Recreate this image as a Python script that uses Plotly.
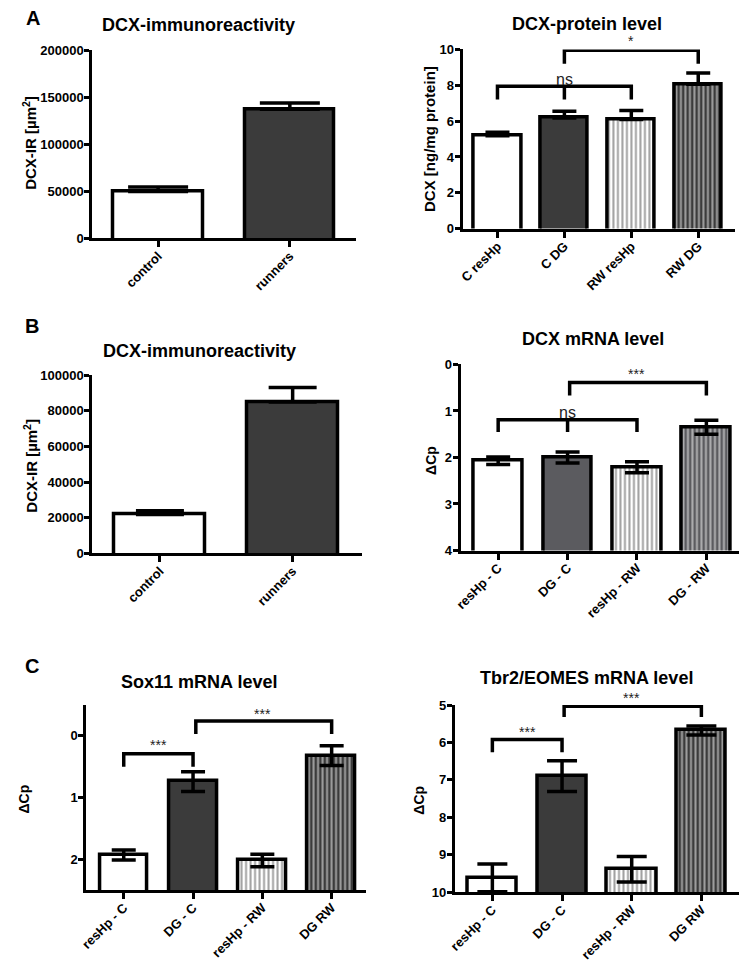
import plotly.graph_objects as go

PAGE_W, PAGE_H = 747, 977
M = 8  # default browser body margin
W, H = PAGE_W - 2 * M, PAGE_H - 2 * M
FONT = "Liberation Sans, Arial, sans-serif"

# ---------------- data ----------------
a1_cats = ["control", "runners"]
a1_vals = [50000, 137400]
a1_err = [4800, 6700]

a2_cats = ["C resHp", "C DG", "RW resHp", "RW DG"]
a2_vals = [5.19, 6.18, 6.09, 8.06]
a2_err = [0.19, 0.37, 0.50, 0.62]

b1_cats = ["control", "runners"]
b1_vals = [21800, 85000]
b1_err = [2200, 8100]

b2_cats = ["resHp - C", "DG - C", "resHp - RW", "DG - RW"]
b2_vals = [2.07, 2.00, 2.21, 1.35]
b2_err = [0.08, 0.12, 0.12, 0.15]

c1_cats = ["resHp - C", "DG - C", "resHp - RW", "DG RW"]
c1_vals = [1.93, 0.74, 2.02, 0.32]
c1_err = [0.08, 0.16, 0.10, 0.16]

c2_cats = ["resHp - C", "DG - C", "resHp - RW", "DG RW"]
c2_vals = [9.62, 6.90, 9.39, 5.68]
c2_err = [0.37, 0.41, 0.34, 0.12]

DARK = "#3b3b3b"
MID = "#5b5b5f"

panels = [
    dict(cats=a1_cats, vals=a1_vals, err=a1_err, title="DCX-immunoreactivity",
         ytitle="DCX-IR [µm<sup>2</sup>]", dom=(86, 352, 44, 235), yr=[0, 200000],
         tv=[0, 50000, 100000, 150000, 200000], xr=[-0.5, 1.5], bw=0.68, cap=30,
         fills=["white", DARK], pats=["", ""], up_only=True,
         tpos=(193, 18), ypos=(23, 138), ysize=15),
    dict(cats=a2_cats, vals=a2_vals, err=a2_err, title="DCX-protein level",
         ytitle="DCX [ng/mg protein]", dom=(460, 735, 43, 225), yr=[0, 10],
         tv=[0, 2, 4, 6, 8, 10], xr=[-0.52, 3.55], bw=0.71, cap=12,
         fills=["white", DARK, "white", DARK], pats=["", "", "|", "|"], up_only=True,
         tpos=(586, 17), ypos=(426, 134), ysize=15),
    dict(cats=b1_cats, vals=b1_vals, err=b1_err, title="DCX-immunoreactivity",
         ytitle="DCX-IR [µm<sup>2</sup>]", dom=(86, 358, 374, 555), yr=[0, 100000],
         tv=[0, 20000, 40000, 60000, 80000, 100000], xr=[-0.51, 1.52], bw=0.69, cap=24,
         fills=["white", DARK], pats=["", ""], up_only=True,
         tpos=(194, 349), ypos=(24, 466), ysize=15),
    dict(cats=b2_cats, vals=b2_vals, err=b2_err, title="DCX mRNA level",
         ytitle="ΔCp", dom=(458, 739, 363, 552), yr=[4, 0],
         tv=[0, 1, 2, 3, 4], xr=[-0.54, 3.47], bw=0.70, cap=12,
         fills=["white", MID, "white", MID], pats=["", "", "|", "|"], up_only=False,
         tpos=(592, 337), ypos=(428, 460), ysize=14),
    dict(cats=c1_cats, vals=c1_vals, err=c1_err, title="Sox11 mRNA level",
         ytitle="ΔCp", dom=(80, 362, 709, 897), yr=[2.5, -0.5],
         tv=[0, 1, 2], xr=[-0.54, 3.49], bw=0.69, cap=12,
         fills=["white", DARK, "white", DARK], pats=["", "", "|", "|"], up_only=False,
         tpos=(194, 686), ypos=(17, 804), ysize=14),
    dict(cats=c2_cats, vals=c2_vals, err=c2_err, title="Tbr2/EOMES mRNA level",
         ytitle="ΔCp", dom=(452, 739, 709, 899), yr=[10, 5],
         tv=[5, 6, 7, 8, 9, 10], xr=[-0.54, 3.54], bw=0.71, cap=15,
         fills=["white", DARK, "white", DARK], pats=["", "", "|", "|"], up_only=False,
         tpos=(585, 682), ypos=(415, 806), ysize=14),
]

# brackets: (panel index, x0, x1, y_line, y_drop, center_drop, label, label_x, label_y, label_size)
brackets = [
    (1, 0, 2, 7.95, 7.2, True, "ns", 1, 8.35, 16),
    (1, 1, 3, 9.96, 9.2, False, "*", 2, 10.45, 14),
    (3, 0, 2, 1.19, 1.45, True, "ns", 1, 1.03, 16),
    (3, 1.03, 3, 0.39, 0.67, False, "***", 2, 0.2, 14),
    (4, 0, 1, 0.29, 0.50, False, "***", 0.5, 0.14, 14),
    (4, 1.04, 3, -0.24, -0.03, False, "***", 2, -0.36, 14),
    (5, 0, 1, 5.92, 6.26, False, "***", 0.5, 5.72, 14),
    (5, 1.03, 3, 5.03, 5.32, False, "***", 2, 4.82, 14),
]

fig = go.Figure()
annotations = []
shapes = []
layout = {}


def fx(p):
    return min(max((p - M) / W, 0), 1)


def fy(p):
    return min(max(1 - (p - M) / H, 0), 1)


def axnames(n):
    xa = "x" if n == 1 else f"x{n}"
    ya = "y" if n == 1 else f"y{n}"
    return xa, ya


for i, p in enumerate(panels):
    n = i + 1
    xa, ya = axnames(n)
    xkey = "xaxis" if n == 1 else f"xaxis{n}"
    ykey = "yaxis" if n == 1 else f"yaxis{n}"
    x0, x1, y0, y1 = p["dom"]
    r0, r1 = p["yr"]
    base = r0 - 0.02 * (r1 - r0)  # push bar bottom just under the axis line
    xs = list(range(len(p["cats"])))
    if p["up_only"]:
        err = dict(type="data", symmetric=False, array=p["err"],
                   arrayminus=[0] * len(p["err"]), color="black",
                   thickness=3.5, width=p["cap"])
    else:
        err = dict(type="data", array=p["err"], color="black",
                   thickness=3.5, width=p["cap"])
    fig.add_trace(go.Bar(
        x=xs, y=[v - base for v in p["vals"]], base=base, width=p["bw"],
        xaxis=xa, yaxis=ya, showlegend=False,
        marker=dict(color=p["fills"], line=dict(color="black", width=3.5),
                    pattern=dict(shape=p["pats"], bgcolor=p["fills"],
                                 fgcolor="black", size=4.5, solidity=0.45)),
        error_y=err,
    ))
    layout[xkey] = dict(
        domain=[fx(x0), fx(x1)], anchor=ya, range=p["xr"],
        tickvals=xs, ticktext=p["cats"], tickangle=-45,
        showline=True, linecolor="black", linewidth=3,
        ticks="outside", ticklen=6, tickwidth=2.5, tickcolor="black",
        ticklabelstandoff=-4,
        showgrid=False, zeroline=False,
        tickfont=dict(family=FONT, size=13, color="black", weight="bold"),
    )
    layout[ykey] = dict(
        domain=[fy(y1), fy(y0)], anchor=xa, range=p["yr"],
        tickvals=p["tv"], tickformat="d",
        showline=True, linecolor="black", linewidth=3,
        ticks="outside", ticklen=5, tickwidth=2.5, tickcolor="black",
        ticklabelstandoff=-2,
        showgrid=False, zeroline=False,
        tickfont=dict(family=FONT, size=13, color="black", weight="bold"),
    )
    annotations.append(dict(
        text=p["title"], xref="paper", yref="paper", x=fx(p["tpos"][0]), y=fy(p["tpos"][1]),
        xanchor="center", yanchor="middle", showarrow=False,
        font=dict(family=FONT, size=18, color="black", weight="bold")))
    annotations.append(dict(
        text=p["ytitle"], xref="paper", yref="paper", x=fx(p["ypos"][0]), y=fy(p["ypos"][1]),
        xanchor="center", yanchor="middle", showarrow=False, textangle=-90,
        font=dict(family=FONT, size=p["ysize"], color="black", weight="bold")))

for (pi, bx0, bx1, yl, yd, cdrop, lab, lx, ly, ls) in brackets:
    n = pi + 1
    xa, ya = axnames(n)
    r0, r1 = panels[pi]["yr"]
    path = f"M {bx0},{yd} L {bx0},{yl} L {bx1},{yl} L {bx1},{yd}"
    if cdrop:
        mid = (bx0 + bx1) / 2
        path += f" M {mid},{yl} L {mid},{yd}"
    shapes.append(dict(type="path", path=path, xref=xa, yref=ya,
                       line=dict(color="black", width=3.5)))
    annotations.append(dict(
        text=lab, xref=xa, yref=f"{ya} domain", x=lx, y=(ly - r0) / (r1 - r0),
        showarrow=False, xanchor="center", yanchor="middle",
        font=dict(family=FONT, size=ls, color="#222")))

for letter, lx, ly in [("A", 26, 11), ("B", 25, 324), ("C", 25, 669)]:
    annotations.append(dict(
        text=letter, xref="paper", yref="paper", x=fx(lx), y=fy(ly),
        xanchor="center", yanchor="middle", showarrow=False,
        font=dict(family=FONT, size=20, color="black", weight="bold")))

fig.update_layout(
    width=W, height=H, margin=dict(l=0, r=0, t=0, b=0),
    paper_bgcolor="white", plot_bgcolor="white",
    font=dict(family=FONT, color="black"),
    annotations=annotations, shapes=shapes, bargap=0,
    **layout,
)

fig.write_html("out.html", config={"displayModeBar": False})
